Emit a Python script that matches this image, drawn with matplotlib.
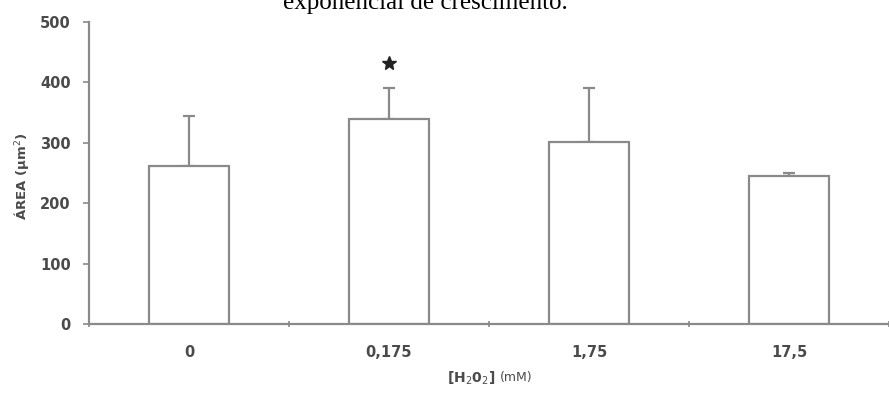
import matplotlib
matplotlib.use("Agg")
import matplotlib.pyplot as plt
import numpy as np

categories = ["0", "0,175", "1,75", "17,5"]
means = [261, 340, 301, 245]
errors = [84, 51, 89, 5]
yticks = [0, 100, 200, 300, 400, 500]
star_value = 432

W, H = 889, 399
fig = plt.figure(figsize=(W / 100, H / 100), dpi=100)
left, right, bottom, top = 89, 889, 324, 22
ax = fig.add_axes([left / W, (H - bottom) / H, (right - left) / W, (bottom - top) / H])

gray = "#8a8a8a"
txt = "#4a4a4a"
x = np.arange(len(categories))
ax.bar(x, means, width=0.4, color="white", edgecolor=gray, linewidth=1.6, zorder=2)
ax.errorbar(x, means, yerr=[np.zeros(len(errors)), errors], fmt="none",
            ecolor=gray, elinewidth=1.6, capsize=4, capthick=1.6, zorder=1)
ax.plot([1], [star_value], marker="*", color="#222222", markersize=10, linestyle="none")

ax.set_ylim(0, 500)
ax.set_xlim(-0.5, 3.46)
ax.set_yticks(yticks)
ax.set_yticklabels([str(v) for v in yticks])
ax.set_xticks(x)
ax.set_xticklabels(categories)
ax.set_xticks(np.arange(-0.5, 4.0, 1.0), minor=True)
ax.tick_params(axis="x", which="major", length=0, pad=15)
ax.tick_params(axis="x", which="minor", length=4, direction="inout", color=gray, width=1.2)
ax.tick_params(axis="y", length=4, color=gray, width=1.2, pad=9)
for lab in ax.get_xticklabels() + ax.get_yticklabels():
    lab.set_fontweight("bold")
    lab.set_color(txt)
    lab.set_fontsize(10.5)

for s in ["top", "right"]:
    ax.spines[s].set_visible(False)
for s in ["left", "bottom"]:
    ax.spines[s].set_color(gray)
    ax.spines[s].set_linewidth(1.6)

fig.text(22 / W, (H - 176) / H, "ÁREA (µm$^2$)", rotation=90, ha="center", va="center",
         fontsize=9.5, fontweight="bold", color=txt)
fig.text(495 / W, (H - 378) / H, "[H$_2$0$_2$]", ha="right", va="center",
         fontsize=10, fontweight="bold", color=txt)
fig.text(500 / W, (H - 378) / H, "(mM)", ha="left", va="center",
         fontsize=9, color=txt)

fig.text(425 / W, 1 - 9 / H, "exponencial de crescimento.", ha="center", va="baseline",
         fontsize=18, family="Liberation Serif", color="black")

fig.savefig("out.png", dpi=100)
